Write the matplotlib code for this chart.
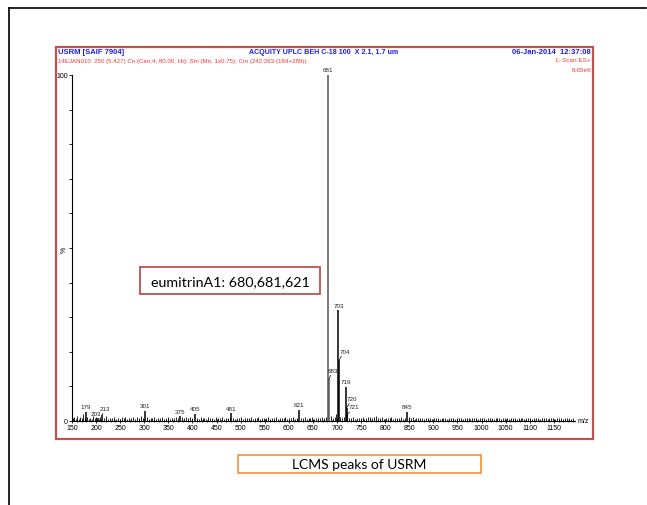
import matplotlib
matplotlib.use("Agg")
import matplotlib.pyplot as plt
from matplotlib.patches import Rectangle
from matplotlib.lines import Line2D

# ---------------- data ----------------
peaks_mz = [179, 203, 213, 301, 375, 405, 481, 621, 681, 683, 703, 704, 719, 720, 721, 845]
peaks_int = [2.6, 1.0, 1.8, 3.0, 1.5, 2.0, 2.2, 3.2, 100, 12.0, 32.0, 17.5, 9.8, 3.8, 1.8, 2.6]
# label offsets in points (dx, dy) and whether a leader line is drawn
label_dx = [0, -1, 2, 0, 0, 0, 0, 0, 0, 3, 0, 4, 0, 4, 5, 0]
label_dy = [2, 1, 3, 2, 1, 2, 2, 2, 2, 5, 2, 5, 2, 5, 4, 2]
label_leader = [False, False, True, False, False, False, False, False, False, True, False, True, False, True, True, False]

noise = [(152, 0.9), (155, 1.2), (158, 0.6), (161, 1.5), (164, 0.7), (167, 1.1), (170, 0.8), (173, 1.9),
         (176, 0.9), (182, 1.3), (185, 0.6), (188, 1.0), (191, 0.7), (194, 1.4), (197, 0.8), (200, 1.1),
         (206, 0.7), (209, 1.2), (217, 0.9), (221, 1.4), (225, 0.6), (229, 1.0), (233, 0.8), (237, 1.2),
         (241, 0.6), (245, 1.0), (249, 0.7), (253, 1.1), (257, 0.8), (261, 1.3), (265, 0.7), (269, 1.0),
         (273, 0.9), (277, 1.2), (281, 0.7), (285, 1.1), (289, 0.8), (293, 1.4), (297, 0.9), (305, 1.2),
         (309, 0.7), (313, 1.0), (317, 0.8), (321, 1.1), (325, 0.6), (329, 1.0), (333, 0.8), (337, 1.2),
         (341, 0.7), (345, 0.9), (349, 1.1), (353, 0.7), (357, 1.0), (361, 0.8), (365, 1.2), (369, 0.9),
         (379, 1.1), (383, 0.8), (387, 1.3), (391, 0.9), (395, 1.2), (399, 0.8), (409, 1.0), (413, 0.7),
         (417, 1.1), (421, 0.8), (425, 1.0), (429, 0.7), (433, 1.2), (437, 0.8), (441, 1.0), (445, 0.7),
         (449, 1.1), (453, 0.8), (457, 0.9), (461, 1.2), (465, 0.7), (469, 1.0), (473, 0.8), (477, 1.1),
         (485, 0.9), (489, 0.7), (493, 1.0), (497, 0.8), (501, 1.1), (505, 0.7), (509, 1.0), (513, 0.8),
         (517, 0.9), (521, 1.1), (525, 0.7), (529, 1.0), (533, 0.8), (537, 1.2), (541, 0.7), (545, 0.9),
         (549, 1.0), (553, 0.8), (557, 1.1), (561, 0.7), (565, 1.0), (569, 0.8), (573, 1.2), (577, 0.7),
         (581, 0.9), (585, 1.0), (589, 0.8), (593, 1.1), (597, 0.7), (601, 1.0), (605, 0.8), (609, 1.2),
         (613, 0.7), (617, 0.9), (625, 1.0), (629, 0.8), (633, 1.1), (637, 0.7), (641, 1.0), (645, 0.8),
         (649, 1.2), (653, 0.7), (657, 0.9), (661, 1.0), (665, 0.8), (669, 1.3), (673, 0.9), (677, 1.1),
         (687, 1.4), (691, 0.9), (695, 1.2), (698, 2.1), (701, 1.0), (707, 1.3), (711, 1.0), (715, 1.1),
         (725, 1.0), (729, 0.8), (733, 1.1), (737, 0.7), (741, 1.0), (745, 0.8), (749, 0.9), (753, 1.1),
         (757, 0.7), (761, 1.0), (765, 1.3), (769, 1.1), (773, 0.9), (777, 1.2), (781, 1.4), (785, 1.0),
         (789, 0.8), (793, 1.1), (797, 0.7), (801, 0.9), (805, 1.0), (809, 0.8), (813, 1.1), (817, 0.7),
         (821, 0.9), (825, 1.0), (829, 0.8), (833, 1.1), (837, 0.7), (841, 1.0), (849, 1.1), (853, 0.8),
         (857, 1.2), (861, 0.7), (865, 0.9), (869, 1.0), (873, 0.8), (877, 0.9), (881, 0.7), (885, 1.0),
         (889, 0.8), (893, 0.9), (897, 0.7), (901, 1.0), (905, 0.8), (909, 0.9), (913, 0.6), (917, 1.0),
         (921, 0.8), (925, 0.9), (929, 0.7), (933, 1.0), (937, 0.8), (941, 0.9), (945, 0.6), (949, 1.0),
         (953, 0.8), (957, 0.9), (961, 0.7), (965, 1.0), (969, 0.8), (973, 0.9), (977, 0.6), (981, 1.0),
         (985, 0.8), (989, 0.9), (993, 0.7), (997, 1.0), (1001, 0.8), (1005, 0.9), (1009, 0.6), (1013, 1.0),
         (1017, 0.8), (1021, 0.9), (1025, 0.7), (1029, 1.0), (1033, 0.8), (1037, 0.9), (1041, 0.6), (1045, 1.0),
         (1049, 0.8), (1053, 0.9), (1057, 0.7), (1061, 1.0), (1065, 0.8), (1069, 0.9), (1073, 0.6), (1077, 1.0),
         (1081, 0.8), (1085, 0.9), (1089, 0.7), (1093, 1.0), (1097, 0.8), (1101, 0.9), (1105, 0.6), (1109, 1.0),
         (1113, 0.8), (1117, 0.9), (1121, 0.7), (1125, 1.0), (1129, 0.8), (1133, 0.9), (1137, 0.6), (1141, 1.0),
         (1145, 0.8), (1149, 0.9), (1153, 0.7), (1157, 1.0), (1161, 0.8), (1165, 0.9), (1169, 0.6), (1173, 1.0),
         (1177, 0.8), (1181, 0.9), (1185, 0.7), (1189, 1.0)]

x_ticks = list(range(150, 1151, 50))
y_ticks = list(range(0, 101, 10))

title_left = "USRM [SAIF 7904]"
title_mid = "ACQUITY UPLC BEH C-18 100  X 2.1, 1.7 um"
title_right = "06-Jan-2014  12:37:08"
sub_left = "14EJAN010  250 (5.427) Cn (Cen,4, 80.00, Ht); Sm (Mn, 1x0.75); Cm (242:263-(184+289))"
sub_right1 = "1: Scan ES+"
sub_right2 = "8.65e6"
annot_text = "eumitrinA1: 680,681,621"
caption = "LCMS peaks of USRM"

# ---------------- figure ----------------
W, H = 647, 506
fig = plt.figure(figsize=(W / 100, H / 100), dpi=100)
fig.patch.set_facecolor("white")
SANS = ["Liberation Sans", "DejaVu Sans"]

def fx(px):
    return px / W

def fy(py):
    return 1 - py / H

# page border lines (top and left)
fig.add_artist(Line2D([fx(9), fx(646)], [fy(9), fy(9)], color="black", lw=1.2))
fig.add_artist(Line2D([fx(9), fx(9)], [fy(9), fy(506)], color="black", lw=1.2))

# red frame
fig.add_artist(Rectangle((fx(56), fy(440)), fx(593) - fx(56), fy(48) - fy(440),
                         fill=False, edgecolor="#c0504d", lw=1.6))

ax = fig.add_axes([fx(72), fy(422), fx(575) - fx(72), fy(76) - fy(422)])
ax.set_xlim(150, 1194)
ax.set_ylim(0, 100)
for s in ["top", "right"]:
    ax.spines[s].set_visible(False)
ax.spines["left"].set_linewidth(0.8)
ax.spines["bottom"].set_linewidth(0.8)

# noise
nz_x = [p[0] for p in noise]
nz_y = [p[1] for p in noise]
ax.vlines(nz_x, 0, nz_y, color="black", lw=0.6)

# peaks
colors = ["#555555" if m in (681, 683) else "black" for m in peaks_mz]
ax.vlines(peaks_mz, 0, peaks_int, colors=colors, lw=1.1)

for m, v, dx, dy, ld in zip(peaks_mz, peaks_int, label_dx, label_dy, label_leader):
    ap = dict(arrowstyle="-", color="black", lw=0.5, shrinkA=0, shrinkB=0) if ld else None
    ax.annotate(str(m), xy=(m, v), xytext=(dx, dy), textcoords="offset points",
                ha="center", va="bottom", fontsize=4.5, family=SANS, color="#222222", arrowprops=ap)

ax.set_xticks(x_ticks)
ax.set_xticklabels([str(t) for t in x_ticks], fontsize=5, family=SANS)
ax.set_xticks(list(range(150, 1191, 10)), minor=True)
ax.tick_params(axis="x", which="major", length=3, direction="inout", width=0.6, pad=1)
ax.tick_params(axis="x", which="minor", length=2, direction="inout", width=0.5)
ax.set_yticks(y_ticks)
ax.set_yticklabels(["0"] + [""] * 9 + ["100"], fontsize=5, family=SANS)
ax.tick_params(axis="y", length=2, width=0.6, pad=1)

ax.text(1.005, 0.0, "m/z", transform=ax.transAxes, fontsize=5, family=SANS, va="center", ha="left")
fig.text(fx(64), fy(250), "%", fontsize=5, family=SANS, rotation=90, ha="center", va="center")

# header texts
blue = "#1f1fe0"
red = "#ff3030"
fig.text(fx(58), fy(53), title_left, fontsize=5.5, family=SANS, color=blue, fontweight="bold", va="center", ha="left")
fig.text(fx(324), fy(53), title_mid, fontsize=5.1, family=SANS, color=blue, fontweight="bold", va="center", ha="center")
fig.text(fx(591), fy(53), title_right, fontsize=5.5, family=SANS, color=blue, fontweight="bold", va="center", ha="right")
fig.text(fx(58), fy(61), sub_left, fontsize=4.4, family=SANS, color=red, va="center", ha="left")
fig.text(fx(591), fy(61), sub_right1, fontsize=4.6, family=SANS, color=red, va="center", ha="right")
fig.text(fx(591), fy(70), sub_right2, fontsize=4.6, family=SANS, color=red, va="center", ha="right")

# annotation boxes
fig.add_artist(Rectangle((fx(140), fy(295)), fx(320) - fx(140), fy(268) - fy(295),
                         fill=True, facecolor="white", edgecolor="#c0504d", lw=1.3))
fig.text(fx(230), fy(282), annot_text, fontsize=10.3, family="Lato", ha="center", va="center")
fig.add_artist(Rectangle((fx(238), fy(474)), fx(481) - fx(238), fy(456) - fy(474),
                         fill=True, facecolor="white", edgecolor="#f79646", lw=1.3))
fig.text(fx(359), fy(465), caption, fontsize=10, family="Lato", ha="center", va="center")

fig.savefig("out.png", dpi=100)
